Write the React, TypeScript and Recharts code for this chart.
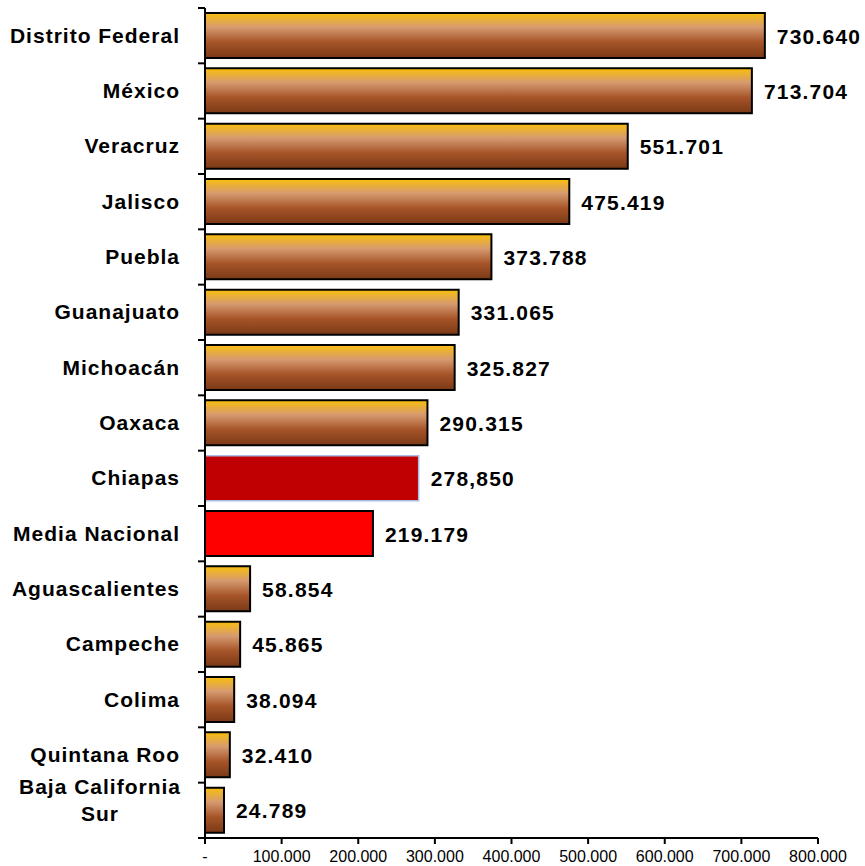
import React from 'react';
import { BarChart, Bar, XAxis, YAxis, Cell, LabelList } from 'recharts';

const states = [
  'Distrito Federal',
  'México',
  'Veracruz',
  'Jalisco',
  'Puebla',
  'Guanajuato',
  'Michoacán',
  'Oaxaca',
  'Chiapas',
  'Media Nacional',
  'Aguascalientes',
  'Campeche',
  'Colima',
  'Quintana Roo',
  'Baja California Sur',
];

const population = [
  730640, 713704, 551701, 475419, 373788, 331065, 325827, 290315, 278850, 219179, 58854, 45865, 38094,
  32410, 24789,
];

const valueLabels = [
  '730.640',
  '713.704',
  '551.701',
  '475.419',
  '373.788',
  '331.065',
  '325.827',
  '290.315',
  '278,850',
  '219.179',
  '58.854',
  '45.865',
  '38.094',
  '32.410',
  '24.789',
];

const xTicks = [0, 100000, 200000, 300000, 400000, 500000, 600000, 700000, 800000];

const data = states.map((name, i) => ({ name, value: population[i], label: valueLabels[i] }));

const FONT = '"Liberation Sans", Arial, Helvetica, sans-serif';
const WIDTH = 865;
const HEIGHT = 866;
const MARGIN = { top: 8, right: 47, bottom: 0, left: 0 };
const X_AXIS_HEIGHT = 28;
const Y_AXIS_WIDTH = 205;
const BAND = (HEIGHT - MARGIN.top - MARGIN.bottom - X_AXIS_HEIGHT) / states.length;

// thousands with a dot, zero shown as a dash
const formatTick = (v: number) => (v === 0 ? '-' : (v / 1000).toFixed(0) + '.000');

const splitLines = (text: string, max: number) => {
  const lines: string[] = [];
  text.split(' ').forEach((w) => {
    const last = lines[lines.length - 1];
    if (last !== undefined && (last + ' ' + w).length <= max) lines[lines.length - 1] = last + ' ' + w;
    else lines.push(w);
  });
  return lines;
};

const CategoryTick = (props: any) => {
  const { y, payload, index } = props;
  const axisX = Y_AXIS_WIDTH;
  const lines = splitLines(String(payload.value), 16);
  const isLast = index === states.length - 1;
  return (
    <g>
      <line x1={axisX - 7} x2={axisX} y1={y - BAND / 2} y2={y - BAND / 2} stroke="#000" strokeWidth={2} />
      {isLast && (
        <line x1={axisX - 7} x2={axisX} y1={y + BAND / 2} y2={y + BAND / 2} stroke="#000" strokeWidth={2} />
      )}
      {lines.length === 1 ? (
        <text
          x={axisX - 25}
          y={y}
          dy={7}
          textAnchor="end"
          fontFamily={FONT}
          fontWeight="bold"
          fontSize={21}
          letterSpacing={1}
          fill="#000"
        >
          {lines[0]}
        </text>
      ) : (
        <text textAnchor="middle" fontFamily={FONT} fontWeight="bold" fontSize={21} letterSpacing={1} fill="#000">
          {lines.map((l, i) => (
            <tspan key={i} x={100} y={y - 16 + i * 27}>
              {l}
            </tspan>
          ))}
        </text>
      )}
    </g>
  );
};

const ValueLabel = (props: any) => {
  const { x, y, width, height, index } = props;
  return (
    <text
      x={x + width + 12}
      y={y + height / 2}
      dy={8}
      fontFamily={FONT}
      fontWeight="bold"
      fontSize={21}
      letterSpacing={1.2}
      fill="#000"
    >
      {valueLabels[index]}
    </text>
  );
};

const fillFor = (name: string) => {
  if (name === 'Chiapas') return '#C00000';
  if (name === 'Media Nacional') return '#FF0000';
  return 'url(#barGradient)';
};

export default function App() {
  return (
    <div style={{ position: 'absolute', left: 0, top: 0, background: '#fff' }}>
      <BarChart width={WIDTH} height={HEIGHT} data={data} layout="vertical" margin={MARGIN}>
        <defs>
          <linearGradient id="barGradient" x1="0" y1="0" x2="0" y2="1">
            <stop offset="0%" stopColor="#F9BF0C" />
            <stop offset="32%" stopColor="#D69A70" />
            <stop offset="65%" stopColor="#A65428" />
            <stop offset="100%" stopColor="#7A3916" />
          </linearGradient>
        </defs>

        <XAxis
          type="number"
          domain={[0, 800000]}
          ticks={xTicks}
          tickFormatter={formatTick}
          height={X_AXIS_HEIGHT}
          axisLine={{ stroke: '#000', strokeWidth: 2 }}
          tickLine={{ stroke: '#000', strokeWidth: 2 }}
          tickSize={6}
          tickMargin={7}
          tick={{ fill: '#000', fontSize: 16, fontFamily: FONT }}
          interval={0}
        />
        <YAxis
          type="category"
          dataKey="name"
          width={Y_AXIS_WIDTH}
          axisLine={{ stroke: '#000', strokeWidth: 2 }}
          tickLine={false}
          tick={<CategoryTick />}
          interval={0}
        />

        <Bar dataKey="value" barSize={45} stroke="#000" strokeWidth={2} isAnimationActive={false}>
          {data.map((d) => (
            <Cell
              key={d.name}
              fill={fillFor(d.name)}
              stroke={d.name === 'Chiapas' ? '#A9BCE8' : '#000'}
              strokeWidth={d.name === 'Chiapas' ? 1.5 : 2}
            />
          ))}
          <LabelList dataKey="label" content={<ValueLabel />} />
        </Bar>
      </BarChart>
    </div>
  );
}
